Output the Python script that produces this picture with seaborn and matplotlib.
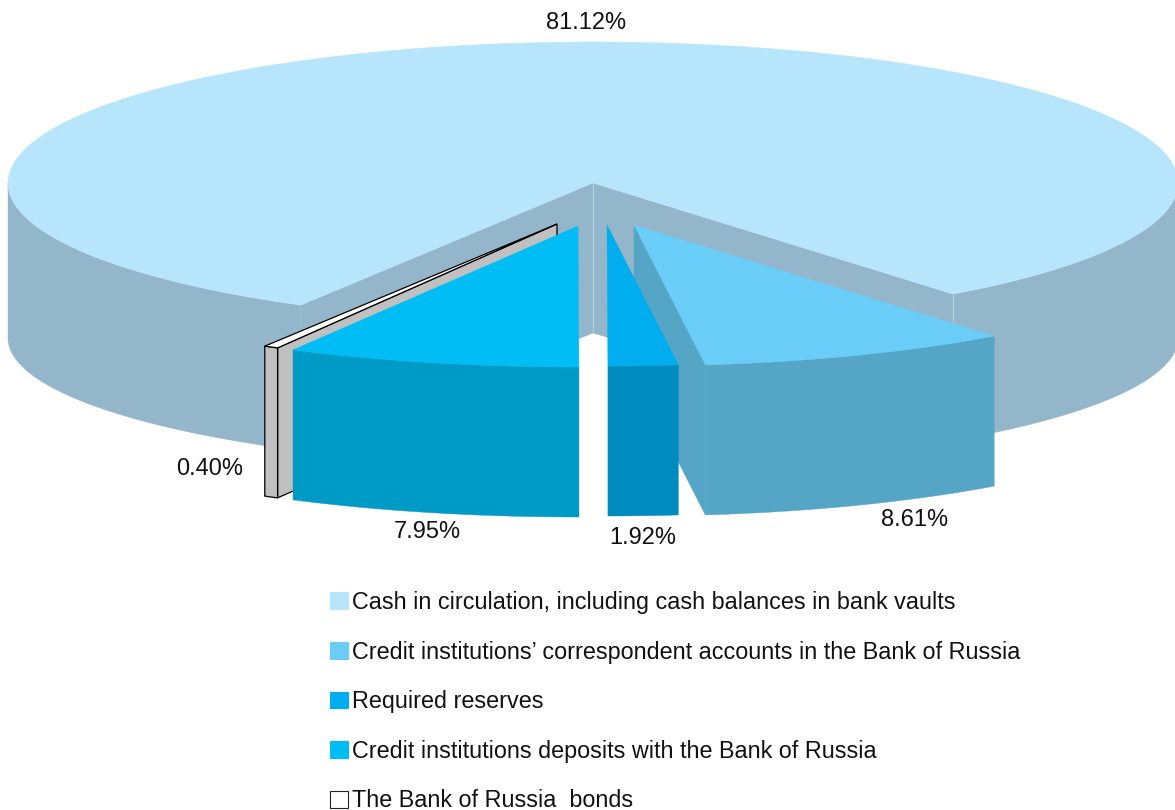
import numpy as np
import matplotlib.pyplot as plt
from matplotlib.patches import Polygon, Patch
import seaborn as sns

# values, main slice first then clockwise
labels = [
    'Cash in circulation, including cash balances in bank vaults',
    'Credit institutions\u2019 correspondent accounts in the Bank of Russia',
    'Required reserves',
    'Credit institutions deposits with the Bank of Russia',
    'The Bank of Russia  bonds',
]
shares = [81.12, 8.61, 1.92, 7.95, 0.40]

top_colors = ['#b7e5fb', '#69cdf8', '#00aeef', '#00bdf6', '#ffffff']
side_colors = ['#94b6ca', '#55a5c6', '#008bbf', '#009ac6', '#c0c0c0']

# pie geometry in picture pixels
CX, CY = 593, 183
RX, RY = 585, 141
DEPTH = 150
BOTTOM_CY, BOTTOM_RY = 338, 130  # lower rim of the main slice is a bit flatter
START = -52.0  # angle where the clockwise run of small slices starts

# per slice: offset of the apex, width scale, label position
offsets = [(0, 0), (41, 42), (14, 42), (-15, 43), (-36, 41)]
x_scale = [1.0, 1.0, 1.0, 1.02, 1.0]
label_pos = [(586, 23), (915, 520), (643, 538), (427, 532), (210, 469)]


def arc(ox, oy, a1, a2, xs=1.0, n=200, ry=RY):
    t = np.radians(np.linspace(a1, a2, n))
    return np.column_stack([ox + RX * xs * np.cos(t), oy - ry * np.sin(t)])


def add_poly(ax, pts, color, z, **kw):
    ax.add_patch(Polygon(pts, closed=True, facecolor=color, edgecolor=kw.pop('edgecolor', color),
                         linewidth=kw.pop('linewidth', 0.3), zorder=z, **kw))


sns.set_theme(style='white')
plt.rcParams['font.family'] = ['Liberation Sans', 'DejaVu Sans']

fig, ax = plt.subplots(figsize=(11.75, 8.10), dpi=100)
fig.subplots_adjust(left=0, right=1, top=1, bottom=0)
ax.set_xlim(0, 1175)
ax.set_ylim(810, 0)
ax.axis('off')

# angles for every slice, walking clockwise from START
spans = [s / sum(shares) * 360 for s in shares]
edges = [START]
for sp in spans[1:]:
    edges.append(edges[-1] - sp)

# main slice
main_end = START + spans[0]
down = np.array([0, DEPTH])
for a1, a2 in [(START, 0), (180, main_end)]:
    rim = arc(CX, CY, a1, a2)
    low = arc(CX, BOTTOM_CY, a1, a2, ry=BOTTOM_RY)
    add_poly(ax, np.vstack([rim, low[::-1]]), side_colors[0], 1)
for a in (START, main_end):
    p = arc(CX, CY, a, a, n=1)[0]
    q = arc(CX, BOTTOM_CY, a, a, n=1, ry=BOTTOM_RY)[0]
    add_poly(ax, [(CX, CY), p, q, (CX, CY + DEPTH)], side_colors[0], 1.5)
edge_pt = arc(CX, CY, START, START, n=1)[0]
ax.plot([edge_pt[0]] * 2, [edge_pt[1], edge_pt[1] + DEPTH], color='#b5d0dd', lw=0.8, zorder=1.6)
ax.plot([CX, CX], [CY, CY + DEPTH], color='#b5d0dd', lw=0.8, zorder=1.6)
rim = arc(CX, CY, START, main_end, n=600)
add_poly(ax, np.vstack([[CX, CY], rim]), top_colors[0], 2)

# small slices, drawn back to front: bonds, deposits, required, accounts
for i in [4, 3, 2, 1]:
    a1, a2 = edges[i - 1], edges[i]
    ox, oy = CX + offsets[i][0], CY + offsets[i][1]
    rim = arc(ox, oy, a1, a2, x_scale[i])
    apex = np.array([ox, oy])
    z = 10 - i
    edge = {'edgecolor': 'black', 'linewidth': 0.9} if i == 4 else {}
    # only two cut faces can be seen: the bonds one and the accounts one,
    # which sits behind the required reserves slice
    if i == 4:
        p = rim[0]
        add_poly(ax, [apex, p, p + down, apex + down], side_colors[i], z, **edge)
    if i == 1:
        p = rim[-1]
        add_poly(ax, [apex, p, p + down, apex + down], side_colors[i], 5)
    # outer wall and top
    add_poly(ax, np.vstack([rim, (rim + down)[::-1]]), side_colors[i], z + 0.1, **edge)
    add_poly(ax, np.vstack([apex, rim]), top_colors[i], z + 0.2, **edge)

# percent labels
for v, (x, y) in zip(shares, label_pos):
    ax.text(x, y, f'{v:.2f}%', ha='center', va='center', fontsize=17, color='#111111', zorder=20)

handles = [Patch(facecolor=c, edgecolor=('#222222' if c == '#ffffff' else c), linewidth=0.8) for c in top_colors]
ax.legend(handles, labels, loc='upper left', bbox_to_anchor=(330, 591), bbox_transform=ax.transData,
          frameon=False, fontsize=16.8, labelcolor='#111111', borderpad=0, borderaxespad=0,
          handlelength=0.77, handleheight=0.73, handletextpad=0.17, labelspacing=1.14)

fig.savefig('out.png', dpi=100)
